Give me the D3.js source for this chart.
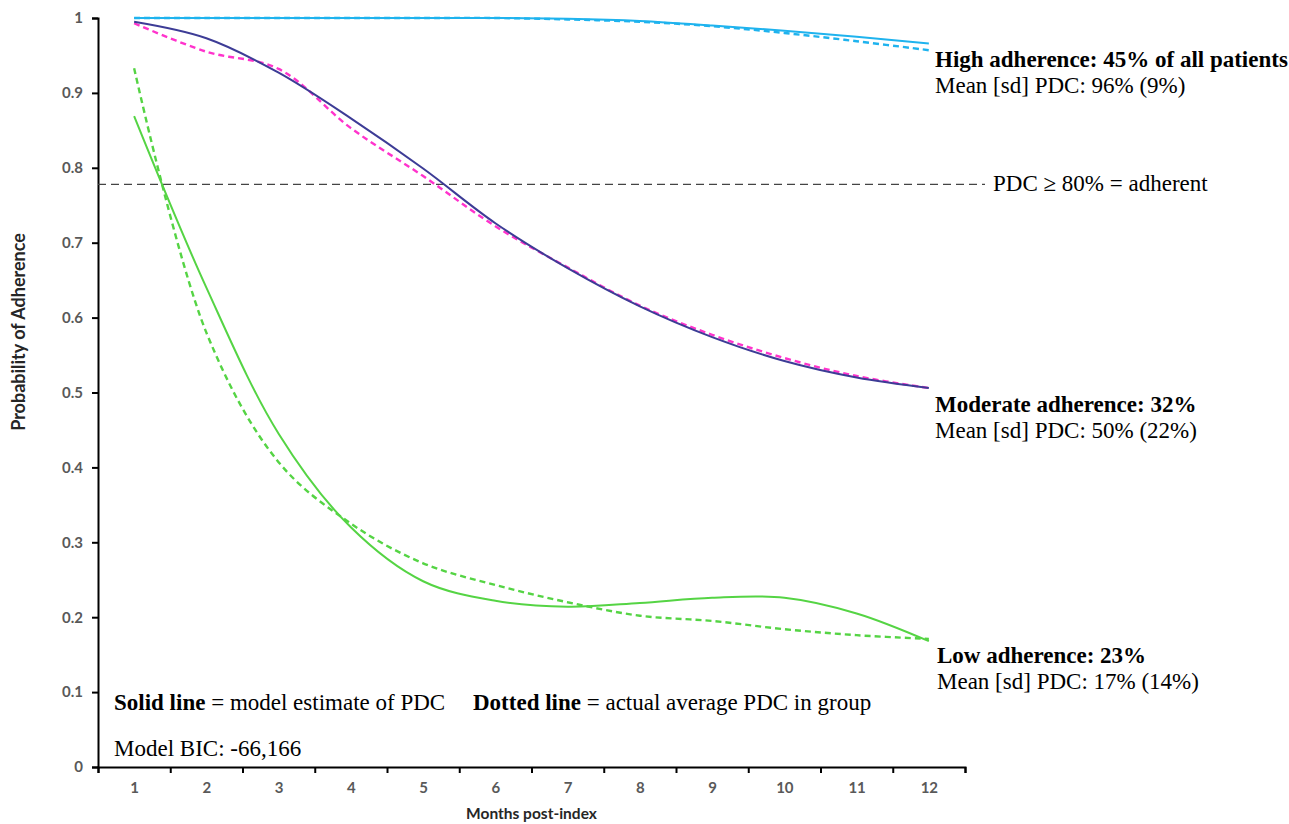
<!DOCTYPE html>
<html>
<head>
<meta charset="utf-8">
<script src="https://cdn.jsdelivr.net/npm/d3@7"></script>
<style>
  body { margin: 0; background: #fff; }
  .tick text { font-family: Lato, "Open Sans", sans-serif; font-weight: bold; font-size: 15px; fill: #595959; }
  .serif { font-family: "Liberation Serif", "Times New Roman", serif; font-size: 23px; fill: #000; }
</style>
</head>
<body>
<script>
// chart values
var months = [1, 2, 3, 4, 5, 6, 7, 8, 9, 10, 11, 12];
var yTicks = [0, 0.1, 0.2, 0.3, 0.4, 0.5, 0.6, 0.7, 0.8, 0.9, 1];

var highModel  = [1, 1, 1, 1, 1, 1, 0.999, 0.996, 0.99, 0.983, 0.975, 0.966];
var highActual = [1, 1, 1, 1, 1, 1, 0.998, 0.995, 0.989, 0.98, 0.969, 0.957];
var modModel   = [0.995, 0.973, 0.927, 0.866, 0.799, 0.726, 0.666, 0.615, 0.574, 0.542, 0.52, 0.506];
var modActual  = [0.993, 0.955, 0.932, 0.853, 0.789, 0.722, 0.667, 0.616, 0.577, 0.546, 0.522, 0.506];
var lowModel   = [0.869, 0.64, 0.445, 0.32, 0.248, 0.222, 0.214, 0.219, 0.226, 0.226, 0.205, 0.168];
var lowActual  = [0.933, 0.58, 0.407, 0.325, 0.272, 0.243, 0.22, 0.202, 0.195, 0.184, 0.176, 0.171];
var threshold = 0.778;

var width = 1289, height = 824;
var plotLeft = 98, plotRight = 965, plotTop = 18, plotBottom = 767;

var svg = d3.select('body').append('svg')
  .attr('width', width)
  .attr('height', height);

var x = d3.scaleLinear().domain([0.5, 12.5]).range([plotLeft, plotRight]);
var y = d3.scaleLinear().domain([0, 1]).range([plotBottom, plotTop]);

// y axis
svg.append('g')
  .attr('transform', 'translate(' + plotLeft + ',0)')
  .call(d3.axisLeft(y).tickValues(yTicks).tickFormat(d => String(d)).tickSize(6).tickPadding(9))
  .call(g => g.selectAll('line, path').attr('stroke', '#000').attr('stroke-width', 2));

// x axis: labels at month centres, tick marks between months
svg.append('g')
  .attr('transform', 'translate(0,' + plotBottom + ')')
  .call(d3.axisBottom(x).tickValues(months).tickSize(0).tickPadding(15))
  .call(g => g.select('path').remove());

svg.append('g')
  .attr('transform', 'translate(0,' + plotBottom + ')')
  .call(d3.axisBottom(x).tickValues(months.map(m => m - 0.5).concat([12.5])).tickFormat('').tickSizeOuter(0).tickSize(6))
  .call(g => g.selectAll('line, path').attr('stroke', '#000').attr('stroke-width', 2));

// axis titles
svg.append('text')
  .attr('x', (plotLeft + plotRight) / 2)
  .attr('y', 819)
  .attr('text-anchor', 'middle')
  .style('font-family', 'Lato, sans-serif').style('font-weight', 'bold').style('font-size', '15.5px')
  .attr('fill', '#262626')
  .text('Months post-index');

svg.append('text')
  .attr('transform', 'translate(25,332) rotate(-90)')
  .attr('text-anchor', 'middle')
  .style('font-family', 'Lato, sans-serif').style('font-weight', 'bold').style('font-size', '18px')
  .attr('fill', '#262626')
  .text('Probability of Adherence');

// threshold line
svg.append('line')
  .attr('x1', plotLeft).attr('x2', 985)
  .attr('y1', y(threshold)).attr('y2', y(threshold))
  .attr('stroke', '#444').attr('stroke-width', 1.2)
  .attr('stroke-dasharray', '8,5');

svg.append('text').attr('class', 'serif')
  .attr('x', 993).attr('y', 191)
  .text('PDC \u2265 80% = adherent');

// series
var series = [
  {vals: highActual, color: '#1fb3ee', dash: true},
  {vals: highModel,  color: '#1fb3ee', dash: false},
  {vals: modActual,  color: '#ff33cc', dash: true},
  {vals: modModel,   color: '#3d3c96', dash: false},
  {vals: lowActual,  color: '#55d444', dash: true},
  {vals: lowModel,   color: '#55d444', dash: false}
];

var line = d3.line()
  .x((d, i) => x(months[i]))
  .y(d => y(d))
  .curve(d3.curveCatmullRom.alpha(0.5));

svg.selectAll('path.series')
  .data(series)
  .enter().append('path')
  .attr('class', 'series')
  .attr('fill', 'none')
  .attr('stroke', d => d.color)
  .attr('stroke-width', d => d.dash ? 2.4 : 2)
  .attr('stroke-dasharray', d => d.dash ? '6,4' : null)
  .attr('d', d => line(d.vals));

// group annotations
function note(xp, yp, boldText, plainText) {
  var t = svg.append('text').attr('class', 'serif').attr('x', xp).attr('y', yp);
  t.append('tspan').style('font-weight', 'bold').text(boldText);
  if (plainText) t.append('tspan').text(plainText);
}

note(935, 67, 'High adherence: 45% of all patients');
note(935, 93, '', 'Mean [sd] PDC: 96% (9%)');
note(935, 412, 'Moderate adherence: 32%');
note(935, 438, '', 'Mean [sd] PDC: 50% (22%)');
note(937, 663, 'Low adherence: 23%');
note(937, 689, '', 'Mean [sd] PDC: 17% (14%)');

note(114, 710, 'Solid line', ' = model estimate of PDC');
note(473, 710, 'Dotted line', ' = actual average PDC in group');
note(114, 756, '', 'Model BIC: -66,166');
</script>
</body>
</html>
